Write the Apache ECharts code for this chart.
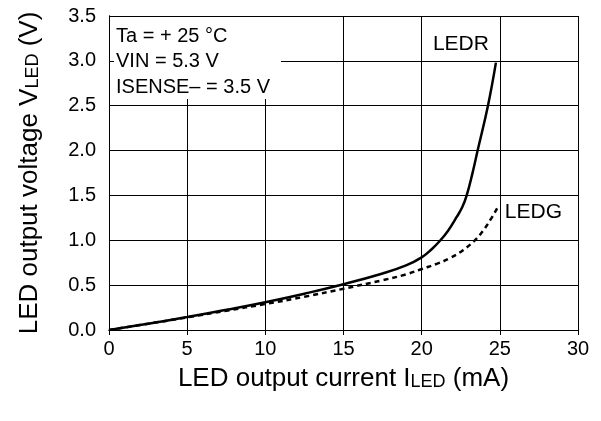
<!DOCTYPE html>
<html>
<head>
<meta charset="utf-8">
<script src="https://cdn.jsdelivr.net/npm/echarts@6/dist/echarts.min.js"></script>
<style>
html,body{margin:0;padding:0;background:#fff;}
#c{width:601px;height:421px;}
</style>
</head>
<body>
<div id="c"></div>
<script>
// Data
const ledrCurrent = [0, 2.5, 5, 7.5, 10, 12.5, 15, 17.5, 19, 20, 20.64, 21.2, 21.7, 22.24, 22.6, 22.88, 23.24, 23.58, 24.24, 24.75];
const ledrVoltage = [0, 0.07, 0.145, 0.225, 0.31, 0.405, 0.51, 0.63, 0.72, 0.81, 0.9, 1.0, 1.11, 1.26, 1.37, 1.5, 1.74, 2.0, 2.5, 2.98];
const ledgCurrent = [0, 2.5, 5, 7.5, 10, 12.5, 15, 17.5, 19, 20, 21, 21.8, 22.65, 23.4, 23.9, 24.4, 24.87];
const ledgVoltage = [0, 0.07, 0.14, 0.215, 0.29, 0.37, 0.46, 0.555, 0.62, 0.68, 0.74, 0.8, 0.89, 1.0, 1.1, 1.23, 1.37];
const xTicks = [0, 5, 10, 15, 20, 25, 30];
const yTicks = [0.0, 0.5, 1.0, 1.5, 2.0, 2.5, 3.0, 3.5];
const conditionLines = ['Ta = + 25 °C', 'VIN = 5.3 V', 'ISENSE– = 3.5 V'];
const seriesNames = ['LEDR', 'LEDG'];

const FONT = 'Liberation Sans, Arial, sans-serif';
const zip = (a, b) => a.map((v, i) => [v, b[i]]);
const last = a => a[a.length - 1];

const chart = echarts.init(document.getElementById('c'));
const xMin = xTicks[0], xMax = last(xTicks);
const yMin = yTicks[0], yMax = last(yTicks);

const subRich = {
  s: { fontSize: 18, fontFamily: FONT, color: '#000', padding: [7, 0, 0, 0] }
};

chart.setOption({
  animation: false,
  backgroundColor: '#fff',
  grid: { left: 109, right: 23, top: 16, bottom: 91, containLabel: false },
  xAxis: [{
    type: 'value', min: xMin, max: xMax, interval: 5,
    name: 'LED output current I{s|LED} (mA)',
    nameLocation: 'middle', nameGap: 36,
    nameTextStyle: { fontSize: 26, fontFamily: FONT, color: '#000', rich: subRich },
    axisLine: { show: true, lineStyle: { color: '#000', width: 1 } },
    axisTick: { show: false },
    axisLabel: { fontSize: 20, fontFamily: FONT, color: '#000', margin: 9,
      formatter: v => String(v) },
    splitLine: { show: true, lineStyle: { color: '#000', width: 1 } }
  }, {
    type: 'value', min: xMin, max: xMax, interval: 5, position: 'top', z: 10,
    axisLine: { show: true, lineStyle: { color: '#000', width: 1 } },
    axisTick: { show: true, inside: true, length: 5, lineStyle: { color: '#000' } },
    axisLabel: { show: false }, splitLine: { show: false }
  }],
  yAxis: [{
    type: 'value', min: yMin, max: yMax, interval: 0.5,
    name: 'LED output voltage V{s|LED} (V)',
    nameLocation: 'middle', nameGap: 66, nameRotate: 90,
    nameTextStyle: { fontSize: 26, fontFamily: FONT, color: '#000', rich: subRich },
    axisLine: { show: true, lineStyle: { color: '#000', width: 1 } },
    axisTick: { show: false },
    axisLabel: { fontSize: 20, fontFamily: FONT, color: '#000', margin: 13,
      formatter: v => v.toFixed(1) },
    splitLine: { show: true, lineStyle: { color: '#000', width: 1 } }
  }, {
    type: 'value', min: yMin, max: yMax, interval: 0.5, position: 'left', z: 10,
    axisLine: { show: true, lineStyle: { color: '#000', width: 1 } },
    axisTick: { show: true, inside: true, length: 5, lineStyle: { color: '#000' } },
    axisLabel: { show: false }, splitLine: { show: false }
  }],
  graphic: [{
    type: 'rect', z: 5,
    shape: { x: 110, y: 17, width: 171, height: 82 },
    style: { fill: '#fff' }
  }].concat(conditionLines.map((t, i) => ({
    type: 'text', z: 6, left: 116, top: 26 + i * 25.5,
    style: { text: t, fontSize: 20, fontFamily: FONT, fill: '#000' }
  }))),
  series: [{
    name: seriesNames[0], type: 'line', xAxisIndex: 0, yAxisIndex: 0,
    data: zip(ledrCurrent, ledrVoltage), smooth: 0.45, showSymbol: false,
    lineStyle: { color: '#000', width: 2.5, type: 'solid' }
  }, {
    name: seriesNames[1], type: 'line', xAxisIndex: 0, yAxisIndex: 0,
    data: zip(ledgCurrent, ledgVoltage), smooth: 0.45, showSymbol: false,
    lineStyle: { color: '#000', width: 2.5, type: [5, 4] }
  }, {
    type: 'scatter', xAxisIndex: 0, yAxisIndex: 0, symbolSize: 0, silent: true,
    itemStyle: { opacity: 1, color: '#000' },
    data: [[last(ledrCurrent), last(ledrVoltage)]],
    label: { show: true, formatter: seriesNames[0], fontSize: 21, fontFamily: FONT,
      color: '#000', opacity: 1, position: [-63, -18], align: 'left', verticalAlign: 'middle' }
  }, {
    type: 'scatter', xAxisIndex: 0, yAxisIndex: 0, symbolSize: 0, silent: true,
    itemStyle: { opacity: 1, color: '#000' },
    data: [[last(ledgCurrent), last(ledgVoltage)]],
    label: { show: true, formatter: seriesNames[1], fontSize: 21, fontFamily: FONT,
      color: '#000', opacity: 1, position: [7, 5], align: 'left', verticalAlign: 'middle' }
  }]
});
</script>
</body>
</html>
